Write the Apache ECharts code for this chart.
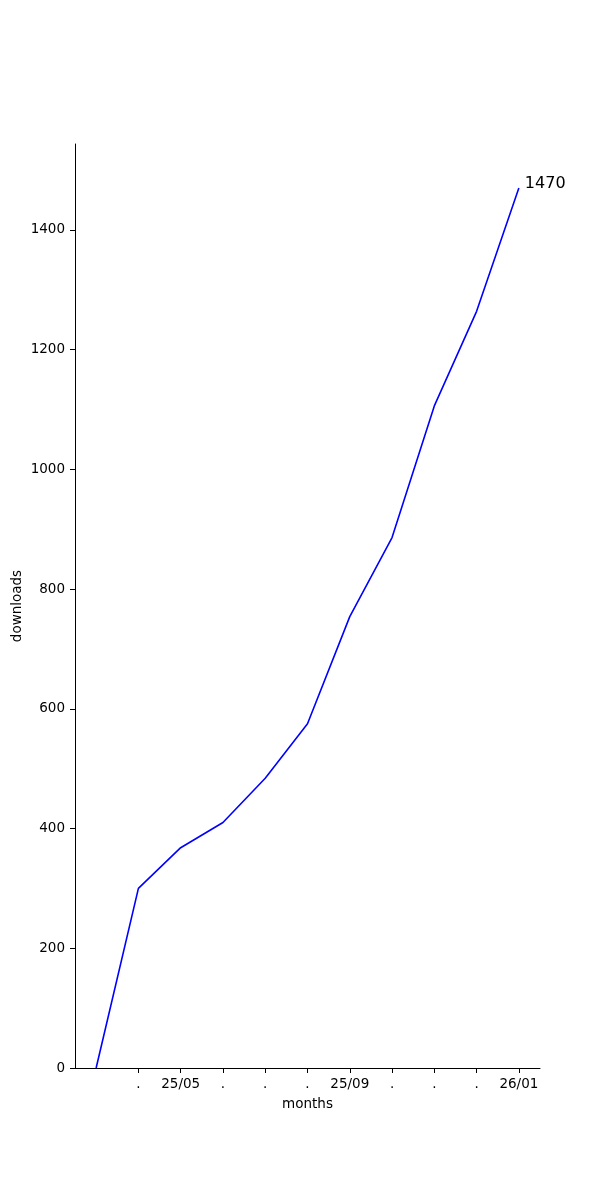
<!DOCTYPE html>
<html>
<head>
<meta charset="utf-8">
<script src="https://cdn.jsdelivr.net/npm/echarts@6/dist/echarts.min.js"></script>
<style>html,body{margin:0;padding:0;background:#fff}#c{width:600px;height:1200px}</style>
</head>
<body>
<div id="c"></div>
<script>
const categories = ['', '.', '25/05', '.', '.', '.', '25/09', '.', '.', '.', '26/01'];
const downloads = [0, 300, 368, 410, 484, 575, 754, 886, 1106, 1264, 1470];
const yTicks = [0, 200, 400, 600, 800, 1000, 1200, 1400];
const yMax = 1543.5;

const font = 'DejaVu Sans';
const chart = echarts.init(document.getElementById('c'), null, {renderer: 'canvas'});
chart.setOption({
  animation: false,
  backgroundColor: '#fff',
  grid: {left: 75, right: 60, top: 144, bottom: 132, containLabel: false, outerBoundsMode: 'none'},
  xAxis: {
    type: 'category',
    data: categories,
    boundaryGap: true,
    name: 'months',
    nameLocation: 'middle',
    nameGap: 29,
    nameTextStyle: {color: '#000', fontSize: 13.5, fontFamily: font},
    axisLine: {show: true, lineStyle: {color: '#000', width: 1}},
    axisTick: {show: true, alignWithLabel: true, length: 5, lineStyle: {color: '#000'}, interval: (i) => i > 0},
    axisLabel: {interval: 0, color: '#000', fontSize: 13.5, fontFamily: font, margin: 9},
    splitLine: {show: false}
  },
  yAxis: {
    type: 'value',
    min: 0,
    max: yMax,
    interval: 200,
    name: 'downloads',
    nameLocation: 'middle',
    nameRotate: 90,
    nameGap: 51,
    nameMoveOverlap: false,
    nameTextStyle: {color: '#000', fontSize: 13.5, fontFamily: font},
    axisLine: {show: true, lineStyle: {color: '#000', width: 1}},
    axisTick: {show: true, length: 5, lineStyle: {color: '#000'}, customValues: yTicks},
    axisLabel: {color: '#000', fontSize: 13.5, fontFamily: font, margin: 10, customValues: yTicks, formatter: (v) => String(v)},
    splitLine: {show: false}
  },
  series: [{
    type: 'line',
    data: downloads,
    symbol: 'none',
    lineStyle: {color: '#0000ff', width: 1.6},
    itemStyle: {color: '#0000ff'},
    endLabel: {show: true, formatter: (p) => String(p.value), color: '#000', fontSize: 16, fontFamily: font, distance: 6, offset: [0, -4]}
  }]
});
</script>
</body>
</html>
